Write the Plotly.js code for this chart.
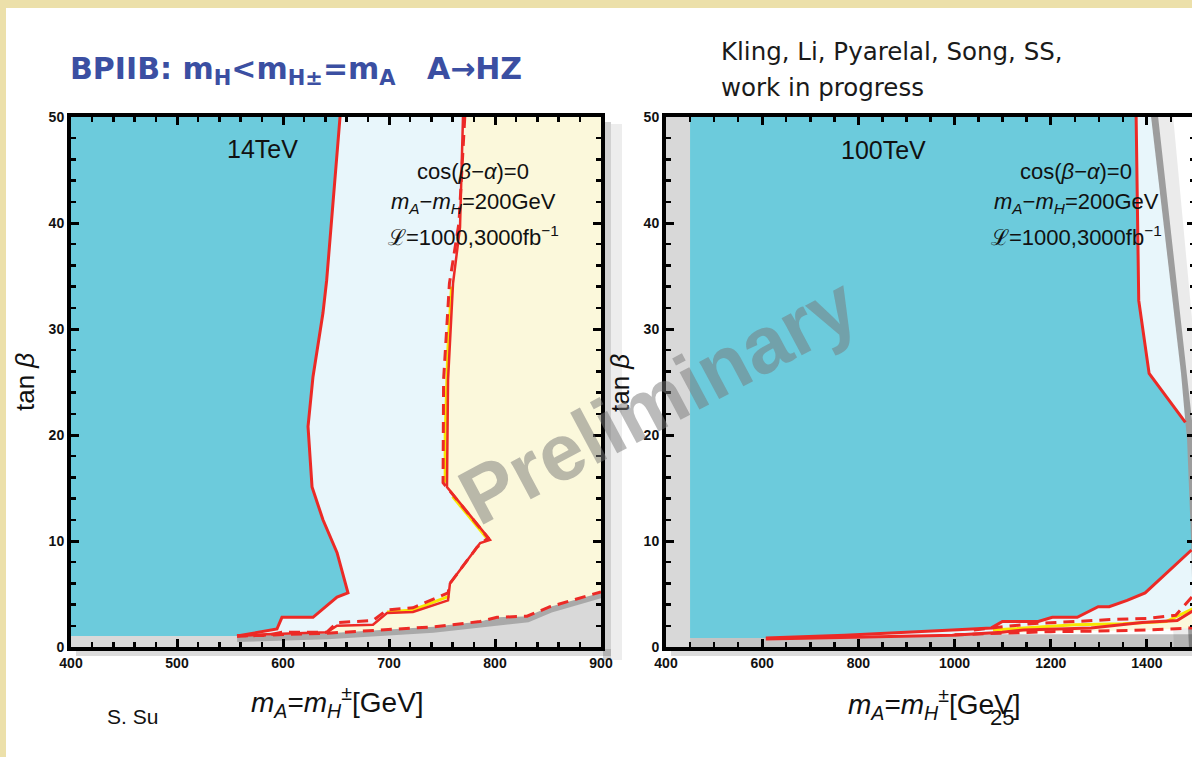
<!DOCTYPE html>
<html><head><meta charset="utf-8">
<script src="https://cdn.plot.ly/plotly-3.0.1.min.js"></script>
<style>
html,body{margin:0;padding:0;width:1192px;height:757px;overflow:hidden;background:#fff}
#bg{position:absolute;left:0;top:0;width:1192px;height:757px;box-sizing:border-box;border-left:6px solid #ece0aa;border-top:8px solid #ece0aa;background:#fff}
#plot{position:absolute;left:0;top:0;width:1200px;height:757px}
</style></head><body><div id="bg"></div><div id="plot"></div>
<script>
// ---------- 14 TeV panel (mA in GeV, tan beta) ----------
const L_solidA_x = [653.8, 647.0, 641.2, 637.7, 628.3, 623.6, 627.4, 637.7, 651.0, 661.3, 651.0, 628.3, 599.0, 594.3, 556.6];
const L_solidA_y = [50.0, 42.0, 34.6, 31.5, 25.5, 20.8, 15.1, 12.0, 8.9, 5.1, 4.7, 2.8, 2.8, 1.7, 1.04];
const L_solidB_x = [769.8, 767.0, 760.4, 755.7, 754.7, 795.3, 786.0, 757.5, 755.7, 722.6, 698.1, 684.9, 650.9, 641.5, 584.9, 556.6];
const L_solidB_y = [50.0, 39.6, 34.3, 25.2, 15.1, 10.1, 9.8, 6.0, 4.4, 3.3, 3.2, 2.1, 2.0, 1.4, 1.2, 1.04];
const L_dashC_x = [771.5, 766.0, 757.0, 751.5, 751.0, 793.5, 783.0, 757.5, 755.7, 722.6, 698.1, 684.9, 650.9, 641.5, 599.0, 585.0, 556.6];
const L_dashC_y = [50.0, 40.0, 34.3, 25.2, 15.5, 10.3, 9.4, 6.0, 5.1, 3.7, 3.5, 2.5, 2.3, 1.4, 1.4, 1.1, 1.04];
const L_dashD_x = [556.6, 641.5, 741.5, 785.8, 801.9, 830.2, 851.9, 899.0, 900.0];
const L_dashD_y = [1.04, 1.3, 1.9, 2.4, 2.8, 2.9, 3.8, 5.1, 5.2];
const L_yellow_x = [759.0, 755.5, 753.0, 753.0, null, 760.0, 792.0, null, 757.0, 722.6, 698.1];
const L_yellow_y = [34.0, 28.0, 20.0, 15.5, null, 14.2, 10.3, null, 4.8, 3.5, 3.3];

// ---------- 100 TeV panel ----------
const R_stripEdge = 450;
const R_red1_x = [1377.6, 1380.5, 1383.0, 1404.6, 1480.0];
const R_red1_y = [50.0, 42.2, 32.7, 25.8, 21.2];
const R_edge_x = [1408.7, 1471.0, 1480.0, 1483.5, 1492.7, 1502.0];
const R_edge_y = [50.0, 25.8, 21.2, 19.6, 9.15, 0.0];
const R_red2_x = [1492.7, 1396.3, 1358.9, 1321.5, 1298.7, 1255.1, 1203.2, 1174.2, 1099.5, 1076.6, 995.7, 771.5, 607.6];
const R_red2_y = [9.15, 5.1, 4.4, 3.8, 3.8, 2.8, 2.8, 2.4, 2.4, 1.8, 1.6, 1.1, 0.85];
const R_sol2_x = [607.6, 995.7, 1099.0, 1143.0, 1284.0, 1390.0, 1463.0, 1495.0];
const R_sol2_y = [0.75, 1.1, 1.4, 1.6, 1.8, 2.3, 2.5, 3.4];
const R_dash1_x = [1040, 1100, 1160, 1250, 1330, 1400, 1460, 1495];
const R_dash1_y = [1.6, 1.9, 2.2, 2.4, 2.6, 2.7, 3.0, 4.8];
const R_yel_x = [1080, 1150, 1250, 1350, 1440, 1495];
const R_yel_y = [1.6, 1.8, 2.1, 2.2, 2.4, 3.6];
const R_dash2_x = [1000, 1100, 1200, 1300, 1400, 1495];
const R_dash2_y = [1.15, 1.3, 1.45, 1.5, 1.6, 1.8];

// ---------- text ----------
const titleText = 'BPIIB: m<sub>H</sub>&lt;m<sub>H±</sub>=m<sub>A</sub>\u00a0\u00a0\u00a0A→HZ';
const authorsLine1 = 'Kling, Li, Pyarelal, Song, SS,';
const authorsLine2 = 'work in progress';
const panelLabels = ['14TeV', '100TeV'];
const infoLines = ['cos(<i>β</i>−<i>α</i>)=0', '<i>m<sub>A</sub></i>−<i>m<sub>H</sub></i>=200GeV', 'ℒ=1000,3000fb<sup>−1</sup>'];
const xTitle = '<i>m<sub>A</sub></i>=<i>m<sub>H</sub></i><sup>±</sup>[GeV]';
const yTitle = 'tan <i>β</i>';

const CYAN = '#6ccbdc', LBLUE = '#e8f6fb', LYEL = '#fbf8db', RED = '#ec2a26', YEL = '#f7e600';
const W = 1200, H = 757;
const fx = p => p / W, fy = p => 1 - p / H;
const rev = a => a.slice().reverse();

function poly(x, y, color, ax) {
  return {x, y, mode: 'lines', fill: 'toself', fillcolor: color, line: {width: 0, color: color}, xaxis: ax[0], yaxis: ax[1], hoverinfo: 'skip'};
}
function line(x, y, color, width, dash, ax) {
  return {x, y, mode: 'lines', line: {color, width, dash: dash || 'solid'}, xaxis: ax[0], yaxis: ax[1], hoverinfo: 'skip', connectgaps: false};
}
const A1 = ['x', 'y'], A2 = ['x2', 'y2'];

const traces = [];
// left panel
traces.push(poly([400, 400].concat(L_dashD_x, [900]), [0, L_dashD_y[0]].concat(L_dashD_y, [0]), '#d9d9d9', A1));
traces.push(line(L_dashD_x, L_dashD_y, 'rgba(80,80,80,0.35)', 12, null, A1));
traces.push(poly([400, 400].concat(L_solidA_x), [L_solidA_y[L_solidA_y.length - 1], 50].concat(L_solidA_y), CYAN, A1));
traces.push(poly(L_solidA_x.concat(rev(L_solidB_x)), L_solidA_y.concat(rev(L_solidB_y)), LBLUE, A1));
traces.push(poly(L_solidB_x.concat(L_dashD_x.slice(1), [900]), L_solidB_y.concat(L_dashD_y.slice(1), [50]), LYEL, A1));
traces.push(line(L_dashD_x, L_dashD_y, RED, 3, '11px,7px', A1));
traces.push(line(L_yellow_x, L_yellow_y, YEL, 3, null, A1));
traces.push(line(L_solidB_x, L_solidB_y, RED, 2.5, null, A1));
traces.push(line(L_dashC_x, L_dashC_y, RED, 3, '11px,7px', A1));
traces.push(line(L_solidA_x, L_solidA_y, RED, 3, null, A1));

// right panel
traces.push(poly([400, R_stripEdge, R_stripEdge, 400], [0, 0, 50, 50], '#d8d8d8', A2));
traces.push(poly([R_stripEdge, 1510, 1510, R_stripEdge], [0, 0, 1.2, 1.2], '#c4c4c4', A2));
traces.push(poly(R_edge_x.concat([1510, 1510]), R_edge_y.concat([0, 50]), '#ffffff', A2));
traces.push(line(R_edge_x, R_edge_y, 'rgba(0,0,0,0.08)', 44, null, A2));
traces.push(line(R_edge_x, R_edge_y, 'rgba(40,40,40,0.4)', 14, null, A2));
traces.push(poly([R_stripEdge, R_stripEdge].concat(R_red1_x, [1483.5], R_red2_x, [R_stripEdge]),
                 [R_red2_y[R_red2_y.length - 1], 50].concat(R_red1_y, [19.6], R_red2_y, [R_red2_y[R_red2_y.length - 1]]), CYAN, A2));
traces.push(poly(R_red1_x.concat([1471.0, 1408.7]), R_red1_y.concat([25.8, 50]), LBLUE, A2));
traces.push(poly(R_red2_x.concat(R_sol2_x), R_red2_y.concat(R_sol2_y), LBLUE, A2));
traces.push(poly(R_sol2_x.concat(rev(R_dash2_x)), R_sol2_y.concat(rev(R_dash2_y)), LYEL, A2));
traces.push(line(R_dash2_x, R_dash2_y, RED, 3, '11px,7px', A2));
traces.push(line(R_yel_x, R_yel_y, YEL, 3, null, A2));
traces.push(line(R_dash1_x, R_dash1_y, RED, 3, '11px,7px', A2));
traces.push(line(R_sol2_x, R_sol2_y, RED, 3, null, A2));
traces.push(line(R_red2_x, R_red2_y, RED, 3, null, A2));
traces.push(line(R_red1_x, R_red1_y, RED, 3, null, A2));

const tickFont = {family: 'Liberation Sans, Arial', size: 14, weight: 'bold', color: '#111'};
function axis(domain, range, dtick, minor, anchor) {
  return {domain, range, dtick, tick0: range[0], anchor, ticks: 'inside', ticklen: 8, tickwidth: 3, tickcolor: '#000',
    showline: true, linewidth: 4, linecolor: '#000', mirror: 'ticks', showgrid: false, zeroline: false,
    minor: {dtick: minor, ticks: 'inside', ticklen: 5, tickwidth: 2.5, tickcolor: '#000', showgrid: false},
    tickfont: tickFont, fixedrange: true};
}
const yDom = [fy(647), fy(117)];

const ann = [];
function text(t, x, y, size, opts) {
  ann.push(Object.assign({text: t, xref: 'paper', yref: 'paper', x: fx(x), y: fy(y), showarrow: false,
    xanchor: 'center', yanchor: 'middle', font: {family: 'Liberation Sans, Arial', size, color: '#111'}}, opts || {}));
}
text(panelLabels[0], 262, 149, 25);
text(panelLabels[1], 883, 150, 25);
[171, 203, 236].forEach((y, i) => { text(infoLines[i], 473, y, 22); text(infoLines[i], 1076, y, 22); });
text(yTitle, 25, 382, 26, {textangle: -90});
text(yTitle, 620, 383, 26, {textangle: -90});
text(xTitle, 337, 702, 28);
text(xTitle, 934, 704, 28);
text('S. Su', 132, 716, 21);
text('25', 1002, 717, 22);
text(authorsLine1, 719, 52, 24.5, {xanchor: 'left', font: {family: 'DejaVu Sans', size: 24.5, color: '#1a1a1a'}});
text(authorsLine2, 719, 87, 24.5, {xanchor: 'left', font: {family: 'DejaVu Sans', size: 24.5, color: '#1a1a1a'}});
text('Preliminary', 658, 400, 80, {textangle: -28, font: {family: 'Liberation Sans, Arial', size: 80, weight: 'bold', color: 'rgba(120,120,120,0.5)'}});

const shapes = [
  {type: 'rect', xref: 'paper', yref: 'paper', x0: fx(603), x1: fx(611), y0: fy(660), y1: fy(122), fillcolor: 'rgba(0,0,0,0.18)', line: {width: 0}, layer: 'below'},
  {type: 'rect', xref: 'paper', yref: 'paper', x0: fx(611), x1: fx(622), y0: fy(660), y1: fy(124), fillcolor: 'rgba(0,0,0,0.07)', line: {width: 0}, layer: 'below'},
  {type: 'rect', xref: 'paper', yref: 'paper', x0: fx(76), x1: fx(611), y0: fy(656), y1: fy(649), fillcolor: 'rgba(0,0,0,0.14)', line: {width: 0}, layer: 'below'},
  {type: 'rect', xref: 'paper', yref: 'paper', x0: fx(671), x1: fx(1200), y0: fy(656), y1: fy(649), fillcolor: 'rgba(0,0,0,0.14)', line: {width: 0}, layer: 'below'}
];

const layout = {
  width: W, height: H, margin: {l: 0, r: 0, t: 0, b: 0, pad: 0},
  paper_bgcolor: 'rgba(0,0,0,0)', plot_bgcolor: '#ffffff', showlegend: false,
  title: {text: titleText, xref: 'container', yref: 'container', x: fx(70), xanchor: 'left', y: fy(68), yanchor: 'middle',
    font: {family: 'DejaVu Sans', size: 30, weight: 'bold', color: '#3b4fa2'}},
  xaxis: axis([fx(71), fx(601)], [400, 900], 100, 20, 'y'),
  yaxis: axis(yDom, [0, 50], 10, 2, 'x'),
  xaxis2: axis([fx(666), fx(1195)], [400, 1500], 200, 50, 'y2'),
  yaxis2: axis(yDom, [0, 50], 10, 2, 'x2'),
  annotations: ann, shapes
};
Plotly.newPlot('plot', traces, layout, {displayModeBar: false, staticPlot: true});
</script></body></html>
